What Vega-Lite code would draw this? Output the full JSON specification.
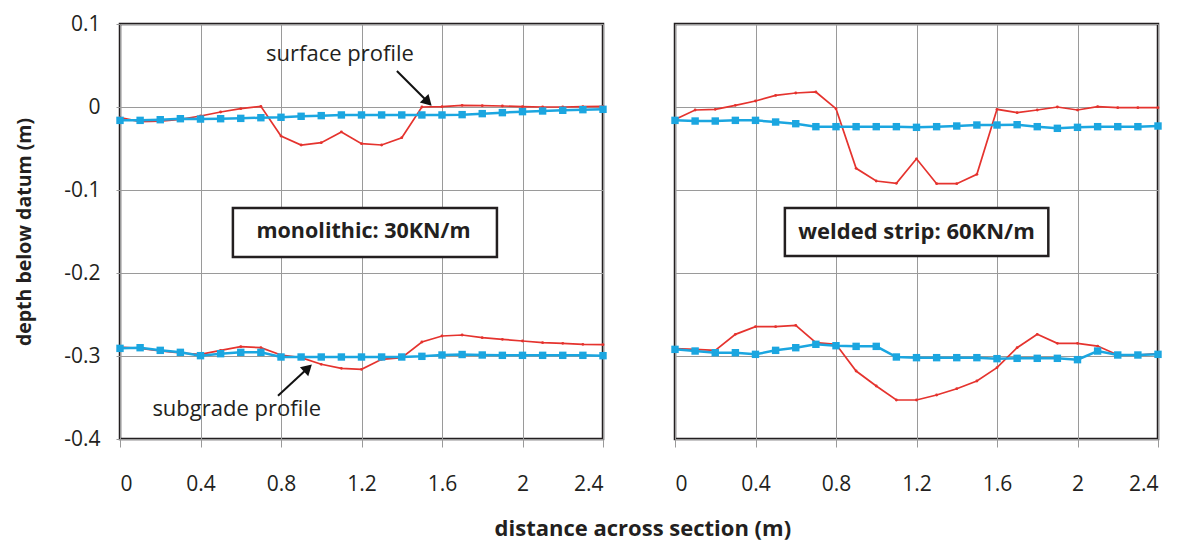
{
  "$schema": "https://vega.github.io/schema/vega-lite/v6.json",
  "padding": {"left": 13, "top": 11, "right": 5, "bottom": 5},
  "bounds": "flush",
  "spacing": 72,
  "title": {"text": "distance across section (m)", "orient": "bottom", "anchor": "middle", "fontSize": 22, "fontWeight": "bold", "color": "#231f20", "font": "Open Sans", "offset": 24, "dx": 54},
  "config": {
    "font": "Open Sans",
    "view": {"stroke": "#231f20", "strokeWidth": 2.5},
    "axis": {"gridColor": "#9a9a9a", "gridWidth": 1, "gridOpacity": 1, "tickColor": "#9a9a9a", "labelColor": "#231f20", "titleColor": "#231f20", "labelFont": "Open Sans", "titleFont": "Open Sans", "labelFontSize": 21, "domain": false}
  },
  "datasets": {
    "monolithic": [
      {"profile": "surface", "state": "after", "x": 0, "depth": -0.0129},
      {"profile": "surface", "state": "after", "x": 0.1, "depth": -0.0177},
      {"profile": "surface", "state": "after", "x": 0.2, "depth": -0.0169},
      {"profile": "surface", "state": "after", "x": 0.3, "depth": -0.0149},
      {"profile": "surface", "state": "after", "x": 0.4, "depth": -0.0108},
      {"profile": "surface", "state": "after", "x": 0.5, "depth": -0.006},
      {"profile": "surface", "state": "after", "x": 0.6, "depth": -0.002},
      {"profile": "surface", "state": "after", "x": 0.7, "depth": 0.0008},
      {"profile": "surface", "state": "after", "x": 0.8, "depth": -0.035},
      {"profile": "surface", "state": "after", "x": 0.9, "depth": -0.0458},
      {"profile": "surface", "state": "after", "x": 1.0, "depth": -0.043},
      {"profile": "surface", "state": "after", "x": 1.1, "depth": -0.030},
      {"profile": "surface", "state": "after", "x": 1.2, "depth": -0.0442},
      {"profile": "surface", "state": "after", "x": 1.3, "depth": -0.0458},
      {"profile": "surface", "state": "after", "x": 1.4, "depth": -0.037},
      {"profile": "surface", "state": "after", "x": 1.5, "depth": 0.0},
      {"profile": "surface", "state": "after", "x": 1.6, "depth": 0.0004},
      {"profile": "surface", "state": "after", "x": 1.7, "depth": 0.002},
      {"profile": "surface", "state": "after", "x": 1.8, "depth": 0.0016},
      {"profile": "surface", "state": "after", "x": 1.9, "depth": 0.0012},
      {"profile": "surface", "state": "after", "x": 2.0, "depth": 0.0004},
      {"profile": "surface", "state": "after", "x": 2.1, "depth": 0.0},
      {"profile": "surface", "state": "after", "x": 2.2, "depth": 0.0},
      {"profile": "surface", "state": "after", "x": 2.3, "depth": 0.0004},
      {"profile": "surface", "state": "after", "x": 2.4, "depth": 0.0008},
      {"profile": "surface", "state": "before", "x": 0, "depth": -0.0161},
      {"profile": "surface", "state": "before", "x": 0.1, "depth": -0.0161},
      {"profile": "surface", "state": "before", "x": 0.2, "depth": -0.0153},
      {"profile": "surface", "state": "before", "x": 0.3, "depth": -0.0141},
      {"profile": "surface", "state": "before", "x": 0.4, "depth": -0.0145},
      {"profile": "surface", "state": "before", "x": 0.5, "depth": -0.0141},
      {"profile": "surface", "state": "before", "x": 0.6, "depth": -0.0137},
      {"profile": "surface", "state": "before", "x": 0.7, "depth": -0.0129},
      {"profile": "surface", "state": "before", "x": 0.8, "depth": -0.0124},
      {"profile": "surface", "state": "before", "x": 0.9, "depth": -0.0112},
      {"profile": "surface", "state": "before", "x": 1.0, "depth": -0.0104},
      {"profile": "surface", "state": "before", "x": 1.1, "depth": -0.0096},
      {"profile": "surface", "state": "before", "x": 1.2, "depth": -0.0096},
      {"profile": "surface", "state": "before", "x": 1.3, "depth": -0.0096},
      {"profile": "surface", "state": "before", "x": 1.4, "depth": -0.0096},
      {"profile": "surface", "state": "before", "x": 1.5, "depth": -0.0096},
      {"profile": "surface", "state": "before", "x": 1.6, "depth": -0.0096},
      {"profile": "surface", "state": "before", "x": 1.7, "depth": -0.0092},
      {"profile": "surface", "state": "before", "x": 1.8, "depth": -0.008},
      {"profile": "surface", "state": "before", "x": 1.9, "depth": -0.0068},
      {"profile": "surface", "state": "before", "x": 2.0, "depth": -0.0056},
      {"profile": "surface", "state": "before", "x": 2.1, "depth": -0.0048},
      {"profile": "surface", "state": "before", "x": 2.2, "depth": -0.004},
      {"profile": "surface", "state": "before", "x": 2.3, "depth": -0.0032},
      {"profile": "surface", "state": "before", "x": 2.4, "depth": -0.0028},
      {"profile": "subgrade", "state": "after", "x": 0, "depth": -0.2892},
      {"profile": "subgrade", "state": "after", "x": 0.1, "depth": -0.2908},
      {"profile": "subgrade", "state": "after", "x": 0.2, "depth": -0.294},
      {"profile": "subgrade", "state": "after", "x": 0.3, "depth": -0.2964},
      {"profile": "subgrade", "state": "after", "x": 0.4, "depth": -0.298},
      {"profile": "subgrade", "state": "after", "x": 0.5, "depth": -0.2932},
      {"profile": "subgrade", "state": "after", "x": 0.6, "depth": -0.2888},
      {"profile": "subgrade", "state": "after", "x": 0.7, "depth": -0.290},
      {"profile": "subgrade", "state": "after", "x": 0.8, "depth": -0.2988},
      {"profile": "subgrade", "state": "after", "x": 0.9, "depth": -0.302},
      {"profile": "subgrade", "state": "after", "x": 1.0, "depth": -0.310},
      {"profile": "subgrade", "state": "after", "x": 1.1, "depth": -0.3149},
      {"profile": "subgrade", "state": "after", "x": 1.2, "depth": -0.3161},
      {"profile": "subgrade", "state": "after", "x": 1.3, "depth": -0.304},
      {"profile": "subgrade", "state": "after", "x": 1.4, "depth": -0.302},
      {"profile": "subgrade", "state": "after", "x": 1.5, "depth": -0.2831},
      {"profile": "subgrade", "state": "after", "x": 1.6, "depth": -0.2759},
      {"profile": "subgrade", "state": "after", "x": 1.7, "depth": -0.2747},
      {"profile": "subgrade", "state": "after", "x": 1.8, "depth": -0.2779},
      {"profile": "subgrade", "state": "after", "x": 1.9, "depth": -0.2799},
      {"profile": "subgrade", "state": "after", "x": 2.0, "depth": -0.2819},
      {"profile": "subgrade", "state": "after", "x": 2.1, "depth": -0.2839},
      {"profile": "subgrade", "state": "after", "x": 2.2, "depth": -0.2847},
      {"profile": "subgrade", "state": "after", "x": 2.3, "depth": -0.2859},
      {"profile": "subgrade", "state": "after", "x": 2.4, "depth": -0.2863},
      {"profile": "subgrade", "state": "before", "x": 0, "depth": -0.2908},
      {"profile": "subgrade", "state": "before", "x": 0.1, "depth": -0.290},
      {"profile": "subgrade", "state": "before", "x": 0.2, "depth": -0.2932},
      {"profile": "subgrade", "state": "before", "x": 0.3, "depth": -0.2956},
      {"profile": "subgrade", "state": "before", "x": 0.4, "depth": -0.2996},
      {"profile": "subgrade", "state": "before", "x": 0.5, "depth": -0.2972},
      {"profile": "subgrade", "state": "before", "x": 0.6, "depth": -0.2956},
      {"profile": "subgrade", "state": "before", "x": 0.7, "depth": -0.2956},
      {"profile": "subgrade", "state": "before", "x": 0.8, "depth": -0.3012},
      {"profile": "subgrade", "state": "before", "x": 0.9, "depth": -0.3012},
      {"profile": "subgrade", "state": "before", "x": 1.0, "depth": -0.3012},
      {"profile": "subgrade", "state": "before", "x": 1.1, "depth": -0.3012},
      {"profile": "subgrade", "state": "before", "x": 1.2, "depth": -0.3012},
      {"profile": "subgrade", "state": "before", "x": 1.3, "depth": -0.3012},
      {"profile": "subgrade", "state": "before", "x": 1.4, "depth": -0.3012},
      {"profile": "subgrade", "state": "before", "x": 1.5, "depth": -0.3004},
      {"profile": "subgrade", "state": "before", "x": 1.6, "depth": -0.2988},
      {"profile": "subgrade", "state": "before", "x": 1.7, "depth": -0.2982},
      {"profile": "subgrade", "state": "before", "x": 1.8, "depth": -0.2988},
      {"profile": "subgrade", "state": "before", "x": 1.9, "depth": -0.2992},
      {"profile": "subgrade", "state": "before", "x": 2.0, "depth": -0.2992},
      {"profile": "subgrade", "state": "before", "x": 2.1, "depth": -0.2992},
      {"profile": "subgrade", "state": "before", "x": 2.2, "depth": -0.2992},
      {"profile": "subgrade", "state": "before", "x": 2.3, "depth": -0.2992},
      {"profile": "subgrade", "state": "before", "x": 2.4, "depth": -0.2996}
    ],
    "welded": [
      {"profile": "surface", "state": "after", "x": 0, "depth": -0.015},
      {"profile": "surface", "state": "after", "x": 0.1, "depth": -0.0036},
      {"profile": "surface", "state": "after", "x": 0.2, "depth": -0.0028},
      {"profile": "surface", "state": "after", "x": 0.3, "depth": 0.002},
      {"profile": "surface", "state": "after", "x": 0.4, "depth": 0.0072},
      {"profile": "surface", "state": "after", "x": 0.5, "depth": 0.014},
      {"profile": "surface", "state": "after", "x": 0.6, "depth": 0.0169},
      {"profile": "surface", "state": "after", "x": 0.7, "depth": 0.0181},
      {"profile": "surface", "state": "after", "x": 0.8, "depth": -0.002},
      {"profile": "surface", "state": "after", "x": 0.9, "depth": -0.0739},
      {"profile": "surface", "state": "after", "x": 1.0, "depth": -0.0892},
      {"profile": "surface", "state": "after", "x": 1.1, "depth": -0.092},
      {"profile": "surface", "state": "after", "x": 1.2, "depth": -0.0624},
      {"profile": "surface", "state": "after", "x": 1.3, "depth": -0.0924},
      {"profile": "surface", "state": "after", "x": 1.4, "depth": -0.0924},
      {"profile": "surface", "state": "after", "x": 1.5, "depth": -0.0811},
      {"profile": "surface", "state": "after", "x": 1.6, "depth": -0.0028},
      {"profile": "surface", "state": "after", "x": 1.7, "depth": -0.0068},
      {"profile": "surface", "state": "after", "x": 1.8, "depth": -0.0036},
      {"profile": "surface", "state": "after", "x": 1.9, "depth": 0.0},
      {"profile": "surface", "state": "after", "x": 2.0, "depth": -0.0036},
      {"profile": "surface", "state": "after", "x": 2.1, "depth": 0.0004},
      {"profile": "surface", "state": "after", "x": 2.2, "depth": -0.0008},
      {"profile": "surface", "state": "after", "x": 2.3, "depth": -0.0008},
      {"profile": "surface", "state": "after", "x": 2.4, "depth": -0.0008},
      {"profile": "surface", "state": "before", "x": 0, "depth": -0.0161},
      {"profile": "surface", "state": "before", "x": 0.1, "depth": -0.0169},
      {"profile": "surface", "state": "before", "x": 0.2, "depth": -0.0169},
      {"profile": "surface", "state": "before", "x": 0.3, "depth": -0.0161},
      {"profile": "surface", "state": "before", "x": 0.4, "depth": -0.0161},
      {"profile": "surface", "state": "before", "x": 0.5, "depth": -0.0181},
      {"profile": "surface", "state": "before", "x": 0.6, "depth": -0.0201},
      {"profile": "surface", "state": "before", "x": 0.7, "depth": -0.0237},
      {"profile": "surface", "state": "before", "x": 0.8, "depth": -0.0237},
      {"profile": "surface", "state": "before", "x": 0.9, "depth": -0.0237},
      {"profile": "surface", "state": "before", "x": 1.0, "depth": -0.0237},
      {"profile": "surface", "state": "before", "x": 1.1, "depth": -0.0237},
      {"profile": "surface", "state": "before", "x": 1.2, "depth": -0.0245},
      {"profile": "surface", "state": "before", "x": 1.3, "depth": -0.0237},
      {"profile": "surface", "state": "before", "x": 1.4, "depth": -0.0229},
      {"profile": "surface", "state": "before", "x": 1.5, "depth": -0.0217},
      {"profile": "surface", "state": "before", "x": 1.6, "depth": -0.0217},
      {"profile": "surface", "state": "before", "x": 1.7, "depth": -0.0213},
      {"profile": "surface", "state": "before", "x": 1.8, "depth": -0.0237},
      {"profile": "surface", "state": "before", "x": 1.9, "depth": -0.0257},
      {"profile": "surface", "state": "before", "x": 2.0, "depth": -0.0245},
      {"profile": "surface", "state": "before", "x": 2.1, "depth": -0.0237},
      {"profile": "surface", "state": "before", "x": 2.2, "depth": -0.0237},
      {"profile": "surface", "state": "before", "x": 2.3, "depth": -0.0237},
      {"profile": "surface", "state": "before", "x": 2.4, "depth": -0.0229},
      {"profile": "subgrade", "state": "after", "x": 0, "depth": -0.2912},
      {"profile": "subgrade", "state": "after", "x": 0.1, "depth": -0.292},
      {"profile": "subgrade", "state": "after", "x": 0.2, "depth": -0.2932},
      {"profile": "subgrade", "state": "after", "x": 0.3, "depth": -0.2739},
      {"profile": "subgrade", "state": "after", "x": 0.4, "depth": -0.2647},
      {"profile": "subgrade", "state": "after", "x": 0.5, "depth": -0.2647},
      {"profile": "subgrade", "state": "after", "x": 0.6, "depth": -0.2631},
      {"profile": "subgrade", "state": "after", "x": 0.7, "depth": -0.2839},
      {"profile": "subgrade", "state": "after", "x": 0.8, "depth": -0.2859},
      {"profile": "subgrade", "state": "after", "x": 0.9, "depth": -0.3181},
      {"profile": "subgrade", "state": "after", "x": 1.0, "depth": -0.3361},
      {"profile": "subgrade", "state": "after", "x": 1.1, "depth": -0.353},
      {"profile": "subgrade", "state": "after", "x": 1.2, "depth": -0.353},
      {"profile": "subgrade", "state": "after", "x": 1.3, "depth": -0.347},
      {"profile": "subgrade", "state": "after", "x": 1.4, "depth": -0.3394},
      {"profile": "subgrade", "state": "after", "x": 1.5, "depth": -0.3301},
      {"profile": "subgrade", "state": "after", "x": 1.6, "depth": -0.3141},
      {"profile": "subgrade", "state": "after", "x": 1.7, "depth": -0.290},
      {"profile": "subgrade", "state": "after", "x": 1.8, "depth": -0.2739},
      {"profile": "subgrade", "state": "after", "x": 1.9, "depth": -0.2847},
      {"profile": "subgrade", "state": "after", "x": 2.0, "depth": -0.2847},
      {"profile": "subgrade", "state": "after", "x": 2.1, "depth": -0.288},
      {"profile": "subgrade", "state": "after", "x": 2.2, "depth": -0.2988},
      {"profile": "subgrade", "state": "after", "x": 2.3, "depth": -0.2988},
      {"profile": "subgrade", "state": "after", "x": 2.4, "depth": -0.2972},
      {"profile": "subgrade", "state": "before", "x": 0, "depth": -0.292},
      {"profile": "subgrade", "state": "before", "x": 0.1, "depth": -0.294},
      {"profile": "subgrade", "state": "before", "x": 0.2, "depth": -0.296},
      {"profile": "subgrade", "state": "before", "x": 0.3, "depth": -0.296},
      {"profile": "subgrade", "state": "before", "x": 0.4, "depth": -0.298},
      {"profile": "subgrade", "state": "before", "x": 0.5, "depth": -0.2932},
      {"profile": "subgrade", "state": "before", "x": 0.6, "depth": -0.290},
      {"profile": "subgrade", "state": "before", "x": 0.7, "depth": -0.2859},
      {"profile": "subgrade", "state": "before", "x": 0.8, "depth": -0.2876},
      {"profile": "subgrade", "state": "before", "x": 0.9, "depth": -0.2884},
      {"profile": "subgrade", "state": "before", "x": 1.0, "depth": -0.2884},
      {"profile": "subgrade", "state": "before", "x": 1.1, "depth": -0.3012},
      {"profile": "subgrade", "state": "before", "x": 1.2, "depth": -0.302},
      {"profile": "subgrade", "state": "before", "x": 1.3, "depth": -0.302},
      {"profile": "subgrade", "state": "before", "x": 1.4, "depth": -0.302},
      {"profile": "subgrade", "state": "before", "x": 1.5, "depth": -0.302},
      {"profile": "subgrade", "state": "before", "x": 1.6, "depth": -0.3032},
      {"profile": "subgrade", "state": "before", "x": 1.7, "depth": -0.3028},
      {"profile": "subgrade", "state": "before", "x": 1.8, "depth": -0.3028},
      {"profile": "subgrade", "state": "before", "x": 1.9, "depth": -0.3028},
      {"profile": "subgrade", "state": "before", "x": 2.0, "depth": -0.3044},
      {"profile": "subgrade", "state": "before", "x": 2.1, "depth": -0.294},
      {"profile": "subgrade", "state": "before", "x": 2.2, "depth": -0.2988},
      {"profile": "subgrade", "state": "before", "x": 2.3, "depth": -0.2988},
      {"profile": "subgrade", "state": "before", "x": 2.4, "depth": -0.298}
    ],
    "notes": [
      {"label": "annotation"}
    ]
  },
  "hconcat": [
    {
      "width": 483,
      "height": 415,
      "layer": [
        {
          "data": {"name": "monolithic"},
          "transform": [{"filter": "datum.state === 'after'"}],
          "mark": {"type": "line", "strokeWidth": 1.7, "point": {"filled": true, "size": 8}},
          "encoding": {
            "x": {"field": "x", "type": "quantitative", "scale": {"domain": [0, 2.4], "nice": false, "zero": false},
                  "axis": {"values": [0, 0.4, 0.8, 1.2, 1.6, 2, 2.4], "labelExpr": "toString(datum.value)", "title": null, "tickSize": 8, "labelPadding": 26}},
            "y": {"field": "depth", "type": "quantitative", "scale": {"domain": [-0.4, 0.1], "nice": false, "zero": false},
                  "axis": {"values": [-0.4, -0.3, -0.2, -0.1, 0, 0.1], "labelExpr": "toString(datum.value)", "title": "depth below datum (m)", "titleFontSize": 19.5, "titleFontWeight": "bold", "tickSize": 4, "labelPadding": 16, "titlePadding": 29}},
            "color": {"field": "state", "type": "nominal", "scale": {"domain": ["after", "before"], "range": ["#e5332e", "#1ba6e0"]}, "legend": null},
            "detail": {"field": "profile"}
          }
        },
        {
          "data": {"name": "monolithic"},
          "transform": [{"filter": "datum.state === 'before'"}],
          "mark": {"type": "line", "strokeWidth": 2.5, "point": {"filled": true, "shape": "square", "size": 55}},
          "encoding": {
            "x": {"field": "x", "type": "quantitative"},
            "y": {"field": "depth", "type": "quantitative"},
            "color": {"field": "state", "type": "nominal", "scale": {"domain": ["after", "before"], "range": ["#e5332e", "#1ba6e0"]}, "legend": null},
            "detail": {"field": "profile"}
          }
        },
        {
          "data": {"name": "notes"},
          "mark": {"type": "rect", "fill": "white", "stroke": "#231f20", "strokeWidth": 2.5},
          "encoding": {"x": {"datum": 0.561}, "x2": {"datum": 1.873}, "y": {"datum": -0.1217}, "y2": {"datum": -0.1807}}
        },
        {
          "data": {"name": "notes"},
          "mark": {"type": "text", "text": "monolithic: 30KN/m", "fontSize": 21.5, "fontWeight": "bold", "color": "#231f20", "align": "center", "baseline": "middle"},
          "encoding": {"x": {"datum": 1.21}, "y": {"datum": -0.1512}}
        },
        {
          "data": {"name": "notes"},
          "mark": {"type": "text", "text": "surface profile", "fontSize": 22, "color": "#231f20", "align": "center", "baseline": "middle"},
          "encoding": {"x": {"datum": 1.093}, "y": {"datum": 0.064}}
        },
        {
          "data": {"name": "notes"},
          "mark": {"type": "rule", "stroke": "#111111", "strokeWidth": 2},
          "encoding": {"x": {"datum": 1.376}, "y": {"datum": 0.0434}, "x2": {"datum": 1.53}, "y2": {"datum": 0.006}}
        },
        {
          "data": {"name": "notes"},
          "mark": {"type": "point", "shape": "triangle-up", "angle": 135, "filled": true, "color": "#111111", "size": 150, "opacity": 1},
          "encoding": {"x": {"datum": 1.53}, "y": {"datum": 0.006}}
        },
        {
          "data": {"name": "notes"},
          "mark": {"type": "text", "text": "subgrade profile", "fontSize": 22, "color": "#231f20", "align": "center", "baseline": "middle"},
          "encoding": {"x": {"datum": 0.58}, "y": {"datum": -0.364}}
        },
        {
          "data": {"name": "notes"},
          "mark": {"type": "rule", "stroke": "#111111", "strokeWidth": 2},
          "encoding": {"x": {"datum": 0.785}, "y": {"datum": -0.348}, "x2": {"datum": 0.934}, "y2": {"datum": -0.3145}}
        },
        {
          "data": {"name": "notes"},
          "mark": {"type": "point", "shape": "triangle-up", "angle": 47, "filled": true, "color": "#111111", "size": 150, "opacity": 1},
          "encoding": {"x": {"datum": 0.934}, "y": {"datum": -0.3145}}
        }
      ]
    },
    {
      "width": 483,
      "height": 415,
      "layer": [
        {
          "data": {"name": "welded"},
          "transform": [{"filter": "datum.state === 'after'"}],
          "mark": {"type": "line", "strokeWidth": 1.7, "point": {"filled": true, "size": 8}},
          "encoding": {
            "x": {"field": "x", "type": "quantitative", "scale": {"domain": [0, 2.4], "nice": false, "zero": false},
                  "axis": {"values": [0, 0.4, 0.8, 1.2, 1.6, 2, 2.4], "labelExpr": "toString(datum.value)", "title": null, "tickSize": 8, "labelPadding": 26}},
            "y": {"field": "depth", "type": "quantitative", "scale": {"domain": [-0.4, 0.1], "nice": false, "zero": false},
                  "axis": {"values": [-0.4, -0.3, -0.2, -0.1, 0, 0.1], "labels": false, "ticks": false, "title": null}},
            "color": {"field": "state", "type": "nominal", "scale": {"domain": ["after", "before"], "range": ["#e5332e", "#1ba6e0"]}, "legend": null},
            "detail": {"field": "profile"}
          }
        },
        {
          "data": {"name": "welded"},
          "transform": [{"filter": "datum.state === 'before'"}],
          "mark": {"type": "line", "strokeWidth": 2.5, "point": {"filled": true, "shape": "square", "size": 55}},
          "encoding": {
            "x": {"field": "x", "type": "quantitative"},
            "y": {"field": "depth", "type": "quantitative"},
            "color": {"field": "state", "type": "nominal", "scale": {"domain": ["after", "before"], "range": ["#e5332e", "#1ba6e0"]}, "legend": null},
            "detail": {"field": "profile"}
          }
        },
        {
          "data": {"name": "notes"},
          "mark": {"type": "rect", "fill": "white", "stroke": "#231f20", "strokeWidth": 2.5},
          "encoding": {"x": {"datum": 0.546}, "x2": {"datum": 1.855}, "y": {"datum": -0.1217}, "y2": {"datum": -0.1795}}
        },
        {
          "data": {"name": "notes"},
          "mark": {"type": "text", "text": "welded strip: 60KN/m", "fontSize": 22, "fontWeight": "bold", "color": "#231f20", "align": "center", "baseline": "middle"},
          "encoding": {"x": {"datum": 1.2}, "y": {"datum": -0.1512}}
        }
      ]
    }
  ]
}
